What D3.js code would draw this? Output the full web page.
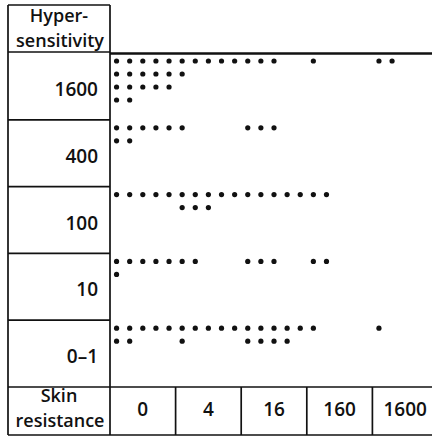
<!DOCTYPE html>
<html>
<head>
<meta charset="utf-8">
<script src="https://cdn.jsdelivr.net/npm/d3@7"></script>
<style>
  body { margin: 0; background: #fff; }
  svg text { font-family: "Open Sans", sans-serif; font-size: 19px; font-weight: 600; fill: #111; }
  svg text.hdr { font-size: 18px; }
</style>
</head>
<body>
<svg id="chart" width="432" height="437"></svg>
<script>
// hypersensitivity levels (rows, top to bottom)
var hyper = ["1600", "400", "100", "10", "0\u20131"];
// skin resistance levels (columns)
var skin = ["0", "4", "16", "160", "1600"];
// number of dots in each cell, one array per hypersensitivity row
var n1600 = [17, 6, 3, 1, 2];
var n400  = [7, 1, 3, 0, 0];
var n100  = [5, 8, 5, 2, 0];
var n10   = [6, 2, 3, 2, 0];
var n0_1  = [7, 6, 9, 1, 1];
var counts = [n1600, n400, n100, n10, n0_1];

var perLine = 5; // dots per line inside one cell

!(function(){
    "use strict";

    var svg = d3.select("#chart");
    var left = 8, colX = 110, top = 5, plotTop = 53, plotBottom = 387, bottom = 435;

    // slot scale: 5 slots per skin column
    var x = d3.scaleLinear().domain([0, skin.length * perLine]).range([colX, 438]);
    var y = d3.scaleBand().domain(hyper).range([plotTop, plotBottom]);
    var lineStep = 13;

    var dots = [];
    counts.forEach(function(row, r) {
        row.forEach(function(n, c) {
            for (var j = 0; j < n; j++) {
                dots.push({row: hyper[r], slot: c * perLine + (j % perLine), line: Math.floor(j / perLine)});
            }
        });
    });

    var g = svg.append("g").attr("stroke", "#111").attr("fill", "none").attr("stroke-width", 1.7);

    // left column frame
    g.append("line").attr("x1", left).attr("x2", left).attr("y1", top).attr("y2", bottom);
    g.append("line").attr("x1", colX).attr("x2", colX).attr("y1", top).attr("y2", bottom);
    g.append("line").attr("x1", left).attr("x2", colX).attr("y1", top).attr("y2", top);
    g.append("line").attr("x1", left).attr("x2", colX).attr("y1", plotTop - 1).attr("y2", plotTop - 1);
    g.selectAll(".rowsep")
        .data(hyper.slice(1))
        .enter().append("line")
        .attr("x1", left).attr("x2", colX)
        .attr("y1", function(d) { return y(d); })
        .attr("y2", function(d) { return y(d); });

    // thick top rule of plot
    g.append("line").attr("x1", colX).attr("x2", 432)
        .attr("y1", plotTop + 0.5).attr("y2", plotTop + 0.5).attr("stroke-width", 2.6);

    // bottom row
    g.append("line").attr("x1", left).attr("x2", 432).attr("y1", plotBottom).attr("y2", plotBottom);
    g.append("line").attr("x1", left).attr("x2", 432).attr("y1", bottom).attr("y2", bottom);
    g.selectAll(".colsep")
        .data(skin.slice(1))
        .enter().append("line")
        .attr("x1", function(d, i) { return x((i + 1) * perLine); })
        .attr("x2", function(d, i) { return x((i + 1) * perLine); })
        .attr("y1", plotBottom).attr("y2", bottom);

    // header texts
    svg.append("text").attr("class", "hdr").attr("x", 59).attr("y", 22).attr("text-anchor", "middle").text("Hyper-");
    svg.append("text").attr("class", "hdr").attr("x", 60).attr("y", 47).attr("text-anchor", "middle").text("sensitivity");
    svg.append("text").attr("class", "hdr").attr("x", 59).attr("y", 402).attr("text-anchor", "middle").text("Skin");
    svg.append("text").attr("class", "hdr").attr("x", 60).attr("y", 427).attr("text-anchor", "middle").text("resistance");

    svg.selectAll(".rowlab")
        .data(hyper)
        .enter().append("text")
        .attr("x", 98)
        .attr("y", function(d) { return y(d) + 43; })
        .attr("text-anchor", "end")
        .text(function(d) { return d; });

    svg.selectAll(".collab")
        .data(skin)
        .enter().append("text")
        .attr("x", function(d, i) { return x((i + 0.5) * perLine); })
        .attr("y", 416)
        .attr("text-anchor", "middle")
        .text(function(d) { return d; });

    svg.selectAll("circle")
        .data(dots)
        .enter().append("circle")
        .attr("cx", function(d) { return x(d.slot + 0.5); })
        .attr("cy", function(d) { return y(d.row) + 8 + d.line * lineStep; })
        .attr("r", 2.6)
        .attr("fill", "#111");
}());
</script>
</body>
</html>
